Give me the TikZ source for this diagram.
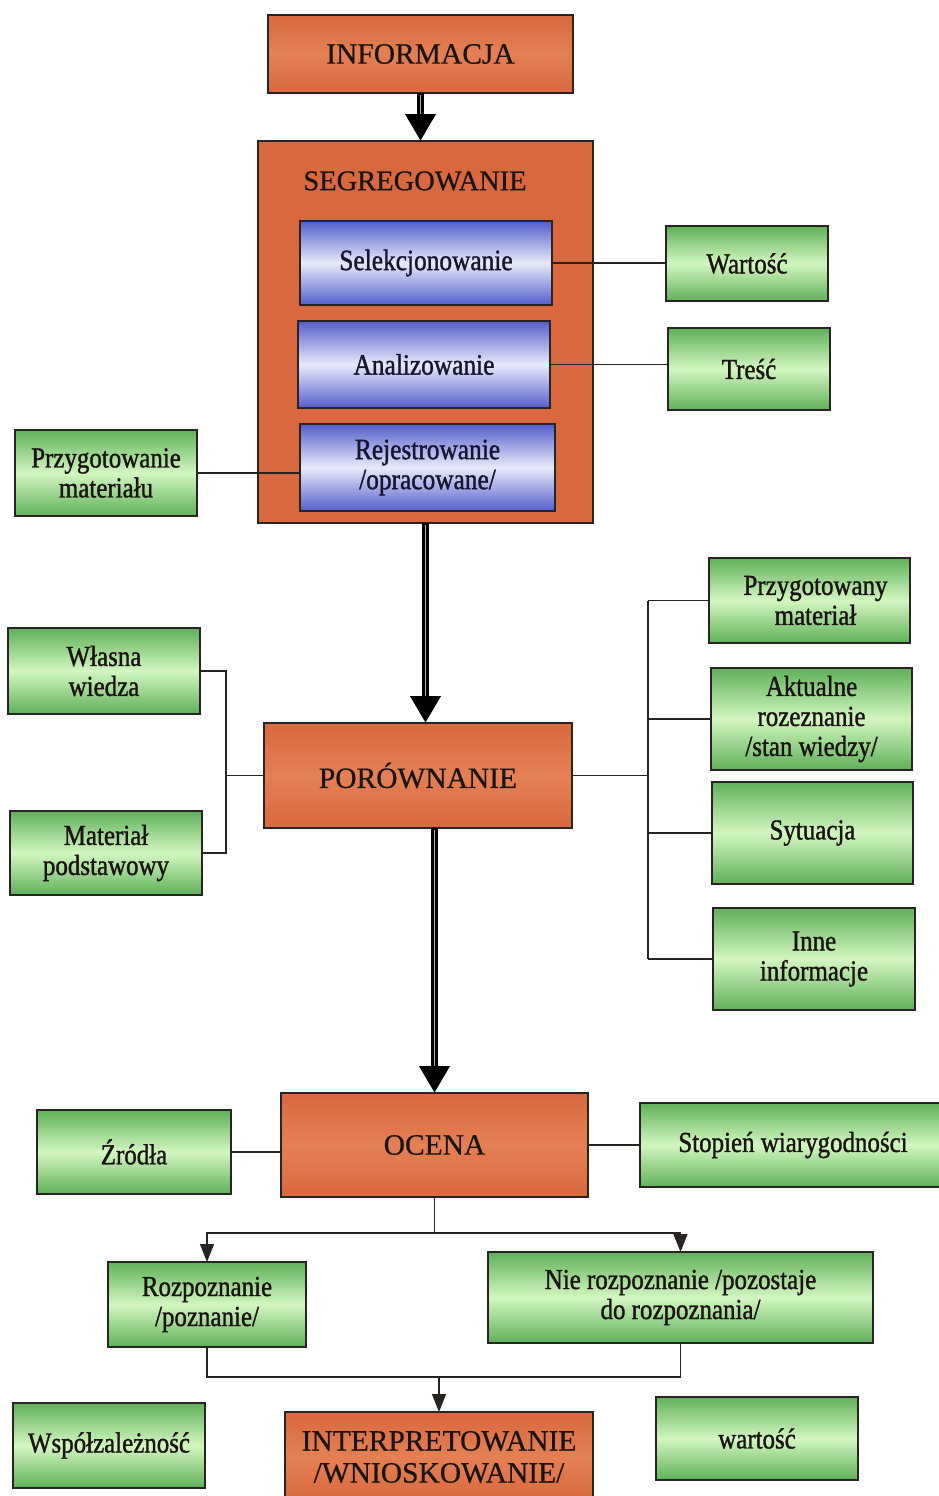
\documentclass[tikz,border=0pt]{standalone}
\usepackage{fontspec}
\setmainfont{Liberation Serif}
\newfontfamily\narrowserif{Liberation Serif}[FakeStretch=0.86, FakeBold=1.2]
\newfontfamily\titleserif{Liberation Serif}[FakeBold=0.6]
\usetikzlibrary{arrows.meta}

\definecolor{orangefill}{RGB}{217,104,62}
\definecolor{orangelight}{RGB}{228,128,84}
\definecolor{greendark}{RGB}{96,176,90}
\definecolor{greenlight}{RGB}{210,247,192}
\definecolor{bluedark}{RGB}{84,94,204}
\definecolor{bluelight}{RGB}{232,234,250}
\definecolor{edge}{RGB}{40,36,34}
\definecolor{darktext}{RGB}{26,20,16}
\definecolor{navytext}{RGB}{22,22,48}
\definecolor{shaftgap}{RGB}{170,170,170}

\tikzset{
  box/.style={rectangle, inner sep=0pt, outer sep=0pt, draw=edge,
    line width=1.8pt, align=center, text=darktext},
  orangebox/.style={box, top color=orangefill, bottom color=orangefill,
    middle color=orangelight, font=\titleserif\fontsize{29.5}{32}\selectfont},
  framebox/.style={box, fill=orangefill},
  greenbox/.style={box, top color=greendark, bottom color=greendark,
    middle color=greenlight, font=\narrowserif\fontsize{29}{30}\selectfont},
  bluebox/.style={box, top color=bluedark, bottom color=bluedark,
    middle color=bluelight, text=navytext,
    font=\narrowserif\fontsize{29.5}{30}\selectfont},
  conn/.style={draw=edge, line width=1.3pt},
  thinarrow/.style={conn, -{Triangle[length=18pt,width=14pt]}},
  bigarrow/.style={draw=black, line width=7pt,
    -{Triangle[length=27pt,width=29pt]}},
  shaftline/.style={draw=shaftgap, line width=1.4pt, shorten >=27pt,
    shorten <=2pt},
}

% box given by its left, top, right and bottom edges
\newcommand\placebox[7]{%
  \node[#2, minimum width={(#5)-(#3)}, minimum height={(#6)-(#4)}]
    (#1) at ({((#3)+(#5))/2},{((#4)+(#6))/2}) {#7};}

\begin{document}
\begin{tikzpicture}[x=1pt, y=-1pt]
\useasboundingbox[fill=white] (0,0) rectangle (939,1496);

% ---- information and segregation ----
\placebox{info}{orangebox}{268}{15}{573}{93}{INFORMACJA}
\placebox{seg}{framebox}{258}{141}{593}{523}{}
\node[font=\titleserif\fontsize{28.5}{32}\selectfont, text=darktext] (segt) at (415,181) {SEGREGOWANIE};
\placebox{sel}{bluebox}{300}{221}{552}{305}{Selekcjonowanie}
\placebox{ana}{bluebox}{298}{321}{550}{408}{Analizowanie}
\placebox{rej}{bluebox}{300}{424}{555}{511}{Rejestrowanie\\/opracowane/}

\placebox{wart}{greenbox}{666}{226}{828}{301}{Wartość}
\placebox{tresc}{greenbox}{668}{328}{830}{410}{Treść}
\placebox{przyg}{greenbox}{15}{430}{197}{516}{Przygotowanie\\materiału}

\draw[conn] (sel.east) -- (sel.east -| wart.west);
\draw[conn] (ana.east) -- (ana.east -| tresc.west);
\draw[conn] (przyg.east) -- (przyg.east -| rej.west);

% ---- comparison ----
\placebox{por}{orangebox}{264}{723}{572}{828}{PORÓWNANIE}
\placebox{wlasna}{greenbox}{8}{628}{200}{714}{Własna\\wiedza}
\placebox{matp}{greenbox}{10}{811}{202}{895}{Materiał\\podstawowy}

\placebox{przm}{greenbox}{709}{558}{910}{643}{\hspace*{12pt}Przygotowany\\\hspace*{12pt}materiał}
\placebox{akt}{greenbox}{711}{668}{912}{770}{Aktualne\\rozeznanie\\/stan wiedzy/}
\placebox{syt}{greenbox}{712}{782}{913}{884}{Sytuacja}
\placebox{inne}{greenbox}{713}{908}{915}{1010}{Inne\\informacje}

\coordinate (lbus) at (226,778);
\draw[conn] (wlasna.east) -| (lbus) |- (matp.east);
\draw[conn] (por.west) -- (por.west -| lbus);

\coordinate (rbus) at (648,775);
\draw[conn] (por.east) -- (por.east -| rbus);
\draw[conn] (rbus |- przm.west) -- (rbus |- inne.west);
\foreach \b in {przm, akt, syt, inne}
  \draw[conn] (rbus |- \b.west) -- (\b.west);

% ---- evaluation ----
\placebox{ocena}{orangebox}{281}{1093}{588}{1197}{OCENA}
\placebox{zrodla}{greenbox}{37}{1110}{231}{1194}{Źródła}
\placebox{stop}{greenbox}{640}{1103}{946}{1187}{Stopień wiarygodności}

\draw[conn] (zrodla.east) -- (zrodla.east -| ocena.west);
\draw[conn] (ocena.east) -- (ocena.east -| stop.west);

\placebox{rozp}{greenbox}{108}{1262}{306}{1347}{Rozpoznanie\\/poznanie/}
\placebox{nier}{greenbox}{488}{1252}{873}{1343}{Nie rozpoznanie /pozostaje\\do rozpoznania/}

\coordinate (split) at (436,1233);
\draw[conn] (ocena.south) -- (ocena.south |- split);
\draw[thinarrow] (ocena.south |- split) -| (rozp.north);
\draw[thinarrow] (ocena.south |- split) -| (nier.north);

% ---- interpretation ----
\placebox{interp}{orangebox}{285}{1412}{593}{1502}{INTERPRETOWANIE\\/WNIOSKOWANIE/}
\placebox{wspol}{greenbox}{13}{1403}{205}{1488}{Współzależność}
\placebox{wart2}{greenbox}{656}{1397}{858}{1480}{wartość}

\coordinate (join) at (438,1377);
\draw[conn] (rozp.south) |- (join) -| (nier.south);
\draw[thinarrow] (interp.north |- join) -- (interp.north);

% ---- main flow arrows ----
\draw[bigarrow] (info.south) -- (info.south |- seg.north);
\draw[shaftline] (info.south) -- (info.south |- seg.north);
\draw[bigarrow] (seg.south) -- (seg.south |- por.north);
\draw[shaftline] (seg.south) -- (seg.south |- por.north);
\draw[bigarrow] (ocena.north |- por.south) -- (ocena.north);
\draw[shaftline] (ocena.north |- por.south) -- (ocena.north);
\end{tikzpicture}
\end{document}
